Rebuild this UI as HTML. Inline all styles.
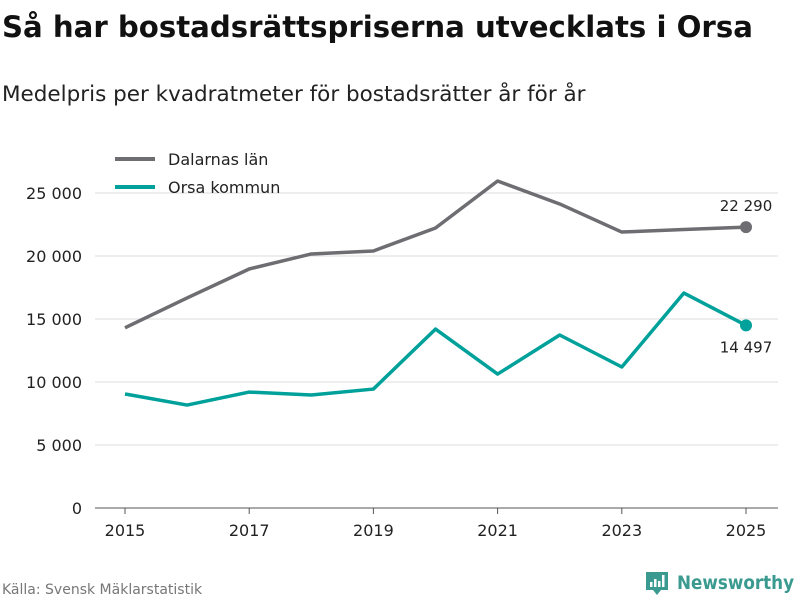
<!DOCTYPE html>
<html><head><meta charset="utf-8"><style>
body{margin:0;width:800px;height:600px;background:#fff;font-family:"DejaVu Sans","Liberation Sans",sans-serif;overflow:hidden}
</style></head><body>
<svg width="800" height="600" xmlns="http://www.w3.org/2000/svg" id="chart">
<text x="2" y="37" font-size="29.2" font-weight="bold" fill="#111">Så har bostadsrättspriserna utvecklats i Orsa</text>
<text x="2" y="101" font-size="21.5" fill="#222">Medelpris per kvadratmeter för bostadsrätter år för år</text>
<g id="grid"></g><g id="series"></g>
<g>
<line x1="115" y1="159" x2="155" y2="159" stroke="#6e6d72" stroke-width="4"/>
<text x="168" y="165" font-size="16" fill="#222">Dalarnas län</text>
<line x1="115" y1="187" x2="155" y2="187" stroke="#00a19a" stroke-width="4"/>
<text x="168" y="193" font-size="16" fill="#222">Orsa kommun</text>
</g>
<text x="2" y="594" font-size="14" fill="#777">Källa: Svensk Mäklarstatistik</text>
<g>
<path d="M646 572h22v18h-7l-4 5-4-5h-7z" fill="#3a9a90"/>
<rect x="650" y="582" width="2.5" height="5" fill="#fff"/><rect x="654" y="579" width="2.5" height="8" fill="#fff"/><rect x="658" y="581" width="2.5" height="6" fill="#fff"/><rect x="662" y="575" width="2.5" height="12" fill="#fff"/>
<text x="677" y="589" font-size="19" fill="#3a9a90" font-weight="600" textLength="117" lengthAdjust="spacingAndGlyphs">Newsworthy</text>
</g>
</svg>
<script>
const years=[2015,2016,2017,2018,2019,2020,2021,2022,2023,2024,2025];
const dalarna=[14300,16670,18970,20160,20400,22220,25950,24130,21900,22100,22290];
const orsa=[9050,8170,9200,8970,9440,14200,10630,13730,11190,17060,14497];
const yTicks=[0,5000,10000,15000,20000,25000];
const yTickLabels=["0","5 000","10 000","15 000","20 000","25 000"];
const xTicks=[2015,2017,2019,2021,2023,2025];
const NS="http://www.w3.org/2000/svg";
const x=v=>125+(v-2015)*62.1;
const y=v=>508-v*315/25000;
const grid=document.getElementById('grid'),ser=document.getElementById('series');
function mk(tag,attrs,parent,txt){const e=document.createElementNS(NS,tag);for(const k in attrs)e.setAttribute(k,attrs[k]);if(txt!==undefined)e.textContent=txt;parent.appendChild(e);return e;}
yTicks.forEach((t,i)=>{
 const l=mk('line',{x1:95,x2:778,y1:y(t),y2:y(t),stroke:t===0?'#555':'#ddd','stroke-width':1},grid);
 
 
 const tx=mk('text',{x:82,y:y(t)+6,'font-size':16,'text-anchor':'end',fill:'#222'},grid,yTickLabels[i]);
 
 
});
xTicks.forEach(t=>{
 const l=mk('line',{x1:x(t),x2:x(t),y1:508,y2:514,stroke:'#555'},grid);
 
 
 const tx=mk('text',{x:x(t),y:536,'font-size':16,'text-anchor':'middle',fill:'#222'},grid,String(t));
 
 
});
function line(vals,color,name,labelDy){
 const d=vals.map((v,i)=>(i?'L':'M')+x(years[i])+' '+y(v)).join('');
 const p=mk('path',{d:d,fill:'none',stroke:color,'stroke-width':3.5,'stroke-linejoin':'round'},ser);
 
 
 const n=vals.length-1;
 const c=mk('circle',{cx:x(years[n]),cy:y(vals[n]),r:6,fill:color},ser);
 
 
 const t=mk('text',{x:x(years[n]),y:y(vals[n])+labelDy,'font-size':15,'text-anchor':'middle',fill:'#222'},ser,vals[n].toLocaleString('sv-SE').replace(/\s/g,' '));
 
 
}
line(dalarna,'#6e6d72','dalarna',-16);
line(orsa,'#00a19a','orsa',27);
</script>
</body></html>
